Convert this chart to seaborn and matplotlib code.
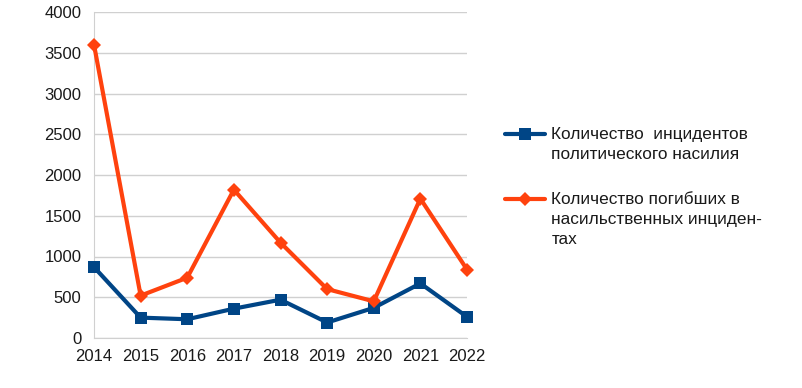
import numpy as np
import pandas as pd
import seaborn as sns
import matplotlib.pyplot as plt

years = [2014, 2015, 2016, 2017, 2018, 2019, 2020, 2021, 2022]
incidents = [870, 250, 230, 360, 470, 190, 370, 670, 260]
deaths = [3600, 520, 740, 1820, 1170, 600, 450, 1710, 840]
labels = ['Количество  инцидентов\nполитического насилия',
          'Количество погибших в\nнасильственных инциден-\nтах']

df = pd.DataFrame({'Год': years, 'Инциденты': incidents, 'Погибшие': deaths})

sns.set_style('white')
plt.rcParams['font.family'] = ['Liberation Sans', 'DejaVu Sans']

fig = plt.figure(figsize=(8.03, 3.88), dpi=100)
ax = fig.add_axes([94 / 803, 1 - 338 / 388, 373 / 803, 326 / 388])

sns.lineplot(data=df, x='Год', y='Инциденты', ax=ax, color='#004586', lw=3,
             marker='s', markersize=9, markeredgewidth=0, label=labels[0],
             clip_on=False, zorder=3)
sns.lineplot(data=df, x='Год', y='Погибшие', ax=ax, color='#ff420e', lw=3,
             marker='D', markersize=7, markeredgewidth=0, label=labels[1],
             clip_on=False, zorder=4)

ax.set_xlim(2014, 2022)
ax.set_ylim(0, 4000)
ax.set_xticks(years)
ax.set_yticks(range(0, 4001, 500))
ax.set_xlabel('')
ax.set_ylabel('')
ax.grid(axis='y', color='#d0d0d0', lw=1)
ax.grid(axis='x', visible=False)
for s in ['top', 'right']:
    ax.spines[s].set_visible(False)
for s in ['left', 'bottom']:
    ax.spines[s].set_color('#d0d0d0')
ax.tick_params(axis='both', length=6, width=1, color='#d0d0d0', labelsize=12,
               labelcolor='#1a1a1a', direction='out', pad=2)
ax.tick_params(axis='y', length=7)
ax.set_axisbelow(True)

leg = ax.legend(loc='upper left', bbox_to_anchor=(505 / 803, 1 - 127 / 388),
                bbox_transform=fig.transFigure, frameon=False, fontsize=12.4,
                handlelength=2.3, handletextpad=0.4, labelspacing=1.7,
                borderpad=0, borderaxespad=0)
for t in leg.get_texts():
    t.set_linespacing(1.45)
    t.set_color('#1a1a1a')

# значок легенды на уровне первой строки подписи
for h, n in zip(leg.legend_handles, [2, 3]):
    h.set_ydata(np.asarray(h.get_ydata(), dtype=float) + (n - 1) / 2 * 15.1)

plt.savefig('out.png', dpi=100)
